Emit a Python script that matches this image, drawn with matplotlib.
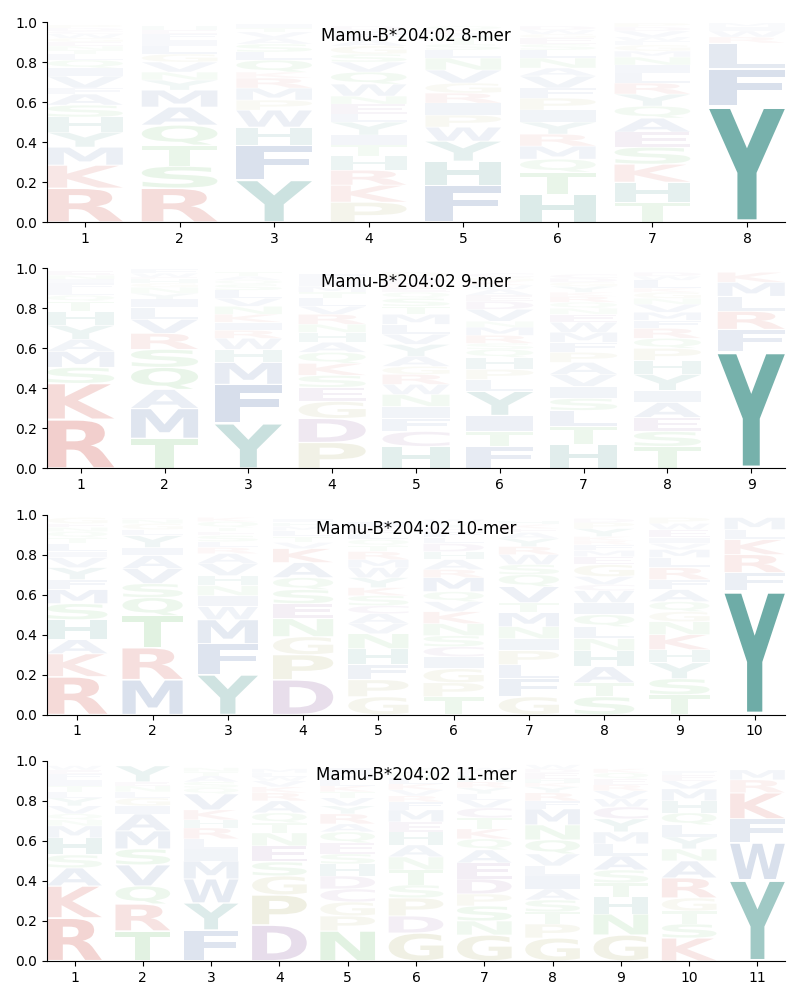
import matplotlib
matplotlib.use('Agg')
import matplotlib.pyplot as plt
from matplotlib.textpath import TextPath
from matplotlib.font_manager import FontProperties
from matplotlib.patches import PathPatch
from matplotlib.transforms import Affine2D

# letters per position, listed bottom -> top, with their frequencies
letters_8 = ["RKMYHSAFVIQLTNEGWCDP", "RSTQAMYNVGLIFEH", "YFHWPMRKQLSAVTI",
             "PKRHTIYLENWQVSGAFMD", "FHYWPIRGVNLSTAEQ", "HTQMRYIPFVANLSEGWD",
             "THKSEAQYRLINMGFWVDP", "YFLRWIM"]
heights_8 = [
    [.17, .115, .09, .075, .075, .06, .055, .03, .06, .04, .04, .03, .02, .02, .02, .02, .02, .015, .015, .015],
    [.17, .11, .105, .10, .09, .085, .05, .04, .05, .04, .04, .03, .03, .02, .02],
    [.21, .175, .09, .085, .05, .06, .05, .03, .06, .04, .04, .03, .03, .02, .02],
    [.10, .085, .075, .07, .055, .05, .065, .04, .05, .04, .06, .06, .05, .04, .04, .03, .03, .02, .02],
    [.185, .12, .10, .07, .06, .06, .05, .05, .065, .06, .04, .03, .03, .02, .02, .02],
    [.14, .11, .065, .065, .06, .06, .06, .06, .05, .06, .04, .05, .04, .03, .03, .02, .02, .02],
    [.10, .10, .09, .085, .075, .07, .06, .06, .055, .05, .04, .04, .03, .03, .02, .02, .03, .02, .02],
    [.58, .185, .13, .03, .03, .02, .02],
]

letters_9 = ["RKSMAYHTQLFINE", "TMAQSRVLIYNGHEWF", "YFMHWRIKNVLSQAT",
             "PDGESKQAHNRVLTMIF", "HCFINWRGAYVLMTSQEKDP", "FTIYLPHQSRMNVDEAWKGC",
             "HTLSIVAPFMWENQRKYGDC", "TSEAIYHPQRFMVNGKLWD", "YFRLMK"]
heights_9 = [
    [.245, .18, .08, .08, .06, .07, .07, .05, .03, .03, .03, .02, .02, .02],
    [.15, .15, .095, .11, .09, .08, .07, .06, .04, .03, .03, .02, .02, .01, .02, .02],
    [.225, .195, .11, .065, .055, .04, .04, .04, .04, .04, .04, .03, .02, .02, .02],
    [.13, .12, .085, .07, .06, .06, .055, .05, .05, .04, .05, .04, .04, .03, .03, .03, .03],
    [.11, .075, .065, .06, .06, .05, .05, .04, .05, .06, .05, .05, .05, .04, .04, .03, .02, .02, .03, .03],
    [.11, .075, .08, .12, .06, .05, .06, .04, .03, .04, .04, .03, .06, .04, .03, .03, .02, .02, .02, .02],
    [.12, .09, .08, .06, .06, .06, .06, .05, .05, .05, .05, .04, .03, .03, .03, .02, .03, .02, .02, .02],
    [.11, .075, .07, .075, .06, .08, .07, .06, .05, .05, .04, .04, .04, .03, .03, .02, .04, .02, .02],
    [.585, .11, .09, .075, .07, .05],
]

letters_10 = ["RKAHSMFYVILTQNEG", "MRTQSVAIYLGNE", "YFMWINHVARLSETQK",
              "DPGNESQAKVTLMHI", "GPFHNVACSKYWMRTQLEI", "TPGICSNKVQMRAHDLFEYW",
              "GFLPINMTVQSWRYAEKH", "STAHNLQIWCVGEMFRKYPD", "TSYHKNGQAFRLMVIEWP",
              "YFRKLM"]
heights_10 = [
    [.19, .115, .07, .10, .08, .07, .05, .06, .05, .03, .04, .03, .03, .02, .02, .03],
    [.175, .16, .16, .09, .07, .075, .065, .04, .06, .03, .03, .02, .01],
    [.20, .155, .12, .065, .055, .05, .05, .06, .05, .03, .03, .03, .02, .02, .03, .02],
    [.175, .125, .09, .09, .075, .07, .06, .075, .07, .03, .03, .03, .02, .02, .02],
    [.09, .085, .075, .08, .075, .05, .05, .04, .05, .04, .05, .05, .04, .04, .03, .03, .03, .03, .03],
    [.09, .07, .07, .06, .05, .055, .06, .06, .05, .05, .07, .04, .05, .04, .04, .03, .03, .02, .02, .02],
    [.09, .09, .07, .07, .06, .06, .07, .05, .08, .06, .05, .05, .04, .04, .03, .02, .02, .02],
    [.09, .07, .08, .08, .06, .06, .06, .06, .06, .03, .04, .06, .04, .03, .03, .02, .02, .04, .03, .02],
    [.10, .08, .08, .065, .075, .065, .05, .05, .06, .05, .06, .05, .04, .03, .03, .04, .03, .03],
    [.62, .09, .09, .075, .05, .06],
]

letters_11 = ["RKASHMNQVYLTIFEW", "TRQVSMAIGLNEY", "FYWMILRHKVQSATN",
              "DPGSENTQARKVWLM", "NPGCDHSEQARYVTKLMI", "GDPSTNAHEMFRVKLQY",
              "GNSPDEAQKTCVLYRHMW", "GPTSAILVQNMFRYKHEDW", "GNHTSALMYCWVREQK",
              "KSTGRANYLQHMVEF", "YWFKRM"]
heights_11 = [
    [.215, .16, .09, .065, .085, .06, .03, .03, .04, .04, .03, .03, .03, .03, .02, .02],
    [.15, .135, .09, .105, .08, .09, .085, .04, .04, .03, .03, .02, .08],
    [.155, .135, .12, .09, .06, .05, .055, .04, .05, .08, .03, .03, .03, .02, .02],
    [.18, .15, .095, .07, .08, .065, .05, .05, .06, .04, .03, .03, .02, .02, .02],
    [.15, .075, .07, .065, .065, .06, .05, .055, .055, .04, .05, .04, .04, .03, .03, .03, .03, .03],
    [.14, .085, .09, .065, .075, .065, .06, .065, .05, .06, .04, .03, .03, .03, .03, .03, .02],
    [.13, .07, .075, .06, .075, .08, .065, .055, .05, .055, .05, .04, .03, .03, .03, .03, .02, .02],
    [.115, .07, .06, .06, .055, .065, .05, .06, .07, .075, .08, .04, .04, .03, .02, .02, .03, .02, .02],
    [.13, .105, .085, .07, .065, .07, .06, .06, .065, .06, .04, .04, .03, .03, .03, .02],
    [.115, .07, .065, .065, .10, .085, .06, .06, .06, .06, .06, .06, .04, .03, .02],
    [.405, .185, .12, .13, .065, .05],
]

titles = ["Mamu-B*204:02 8-mer", "Mamu-B*204:02 9-mer",
          "Mamu-B*204:02 10-mer", "Mamu-B*204:02 11-mer"]

colors = {}
for aa in "RK":
    colors[aa] = '#c83228'
for aa in "AVLIMFW":
    colors[aa] = '#285096'
for aa in "STNQ":
    colors[aa] = '#3caa3c'
for aa in "DEC":
    colors[aa] = '#783c8c'
for aa in "GP":
    colors[aa] = '#96963c'
for aa in "YH":
    colors[aa] = '#006e64'

fp = FontProperties(family='DejaVu Sans', weight='bold')
glyphs = {}


def draw_letter(ax, ch, x, y0, h):
    if ch not in glyphs:
        glyphs[ch] = TextPath((0, 0), ch, size=1, prop=fp)
    p = glyphs[ch]
    ext = p.get_extents()
    w = 0.8
    pad = 0.025 * h
    t = (Affine2D().translate(-ext.x0, -ext.y0)
         .scale(w / ext.width, (h - 2 * pad) / ext.height)
         .translate(x - w / 2, y0 + pad))
    # stronger letters are drawn more opaque
    ax.add_patch(PathPatch(t.transform_path(p), facecolor=colors[ch],
                           edgecolor='none', alpha=min(1, 0.01 + 0.9 * h)))


fig, axes = plt.subplots(4, 1, figsize=(8, 10), dpi=100)
panels = [(letters_8, heights_8), (letters_9, heights_9),
          (letters_10, heights_10), (letters_11, heights_11)]

for ax, (letters, heights), title in zip(axes, panels, titles):
    n = len(letters)
    for i in range(n):
        y = 0
        for ch, h in zip(letters[i], heights[i]):
            draw_letter(ax, ch, i + 1, y, h)
            y += h
    ax.set_xlim(0.6, n + 0.4)
    ax.set_ylim(0, 1)
    ax.set_xticks(range(1, n + 1))
    ax.set_yticks([0, 0.2, 0.4, 0.6, 0.8, 1.0])
    ax.spines['top'].set_visible(False)
    ax.spines['right'].set_visible(False)
    ax.text(0.5, 0.93, title, transform=ax.transAxes, ha='center',
            va='center', fontsize=12, zorder=5)

fig.subplots_adjust(left=0.059, right=0.981, top=0.978, bottom=0.039, hspace=0.23)
fig.savefig('out.png')
